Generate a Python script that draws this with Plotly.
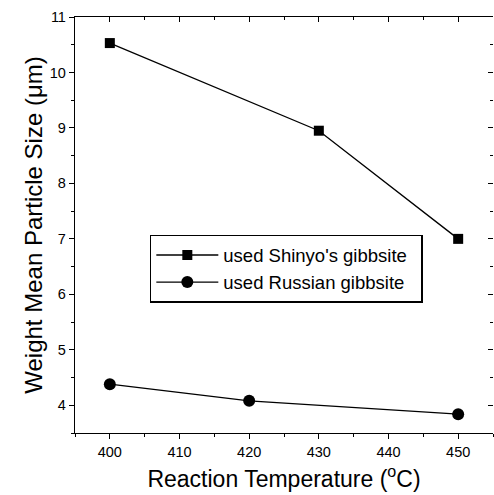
import plotly.graph_objects as go

temps_shinyo = [400, 430, 450]
size_shinyo = [10.53, 8.95, 7.0]
temps_russian = [400, 420, 450]
size_russian = [4.38, 4.08, 3.84]

FONT = "Liberation Sans, Arial, sans-serif"

fig = go.Figure()
fig.add_trace(go.Scatter(x=temps_shinyo, y=size_shinyo, mode="lines+markers",
                         name="used Shinyo's gibbsite",
                         line=dict(color="black", width=1.3),
                         marker=dict(symbol="square", size=10, color="black")))
fig.add_trace(go.Scatter(x=temps_russian, y=size_russian, mode="lines+markers",
                         name="used Russian gibbsite",
                         line=dict(color="black", width=1.3),
                         marker=dict(symbol="circle", size=12, color="black")))
# invisible trace to activate mirror axes
fig.add_trace(go.Scatter(x=[temps_shinyo[0]], y=[size_shinyo[0]], xaxis="x2", yaxis="y2",
                         mode="markers", marker=dict(opacity=0), showlegend=False,
                         hoverinfo="skip"))

common = dict(showgrid=False, zeroline=False, linecolor="black", tickcolor="black",
              tickfont=dict(family=FONT, size=14.5, color="black"))

fig.update_layout(
    width=494, height=495,
    margin=dict(l=75, r=1, t=17, b=62),
    paper_bgcolor="white", plot_bgcolor="white",
    showlegend=True,
    legend=dict(x=0.179, y=0.476, xanchor="left", yanchor="top",
                orientation="h", entrywidth=193,
                bordercolor="black", borderwidth=1.5, bgcolor="white",
                font=dict(family=FONT, size=18.5, color="black"),
                itemwidth=62, tracegroupgap=0),
    xaxis=dict(range=[395, 455], tick0=400, dtick=10, ticks="outside", ticklen=5,
               showline=True, linewidth=1.3,
               minor=dict(dtick=5, ticks="outside", ticklen=3, tickcolor="black"),
               title=dict(text="Reaction Temperature (<sup>o</sup>C)",
                          font=dict(family=FONT, size=23, color="black"), standoff=12),
               **common),
    yaxis=dict(range=[3.5, 11], tick0=4, dtick=1, ticks="outside", ticklen=5,
               showline=True, linewidth=1.3,
               minor=dict(dtick=0.5, ticks="outside", ticklen=3, tickcolor="black"),
               title=dict(text="Weight Mean Particle Size (\u03bcm)",
                          font=dict(family=FONT, size=24, color="black"), standoff=0),
               **common),
    xaxis2=dict(overlaying="x", side="top", matches="x", range=[395, 455], tick0=400, dtick=10,
                ticks="inside", ticklen=5, showticklabels=False, showline=True, linewidth=1.3,
                minor=dict(dtick=5, ticks="inside", ticklen=3, tickcolor="black"),
                showgrid=False, zeroline=False, linecolor="black", tickcolor="black"),
    yaxis2=dict(overlaying="y", side="right", matches="y", range=[3.5, 11], tick0=4, dtick=1,
                ticks="inside", ticklen=5, showticklabels=False, showline=False,
                minor=dict(dtick=0.5, ticks="inside", ticklen=3, tickcolor="black"),
                showgrid=False, zeroline=False, tickcolor="black"),
)

fig.write_html("out.html")
